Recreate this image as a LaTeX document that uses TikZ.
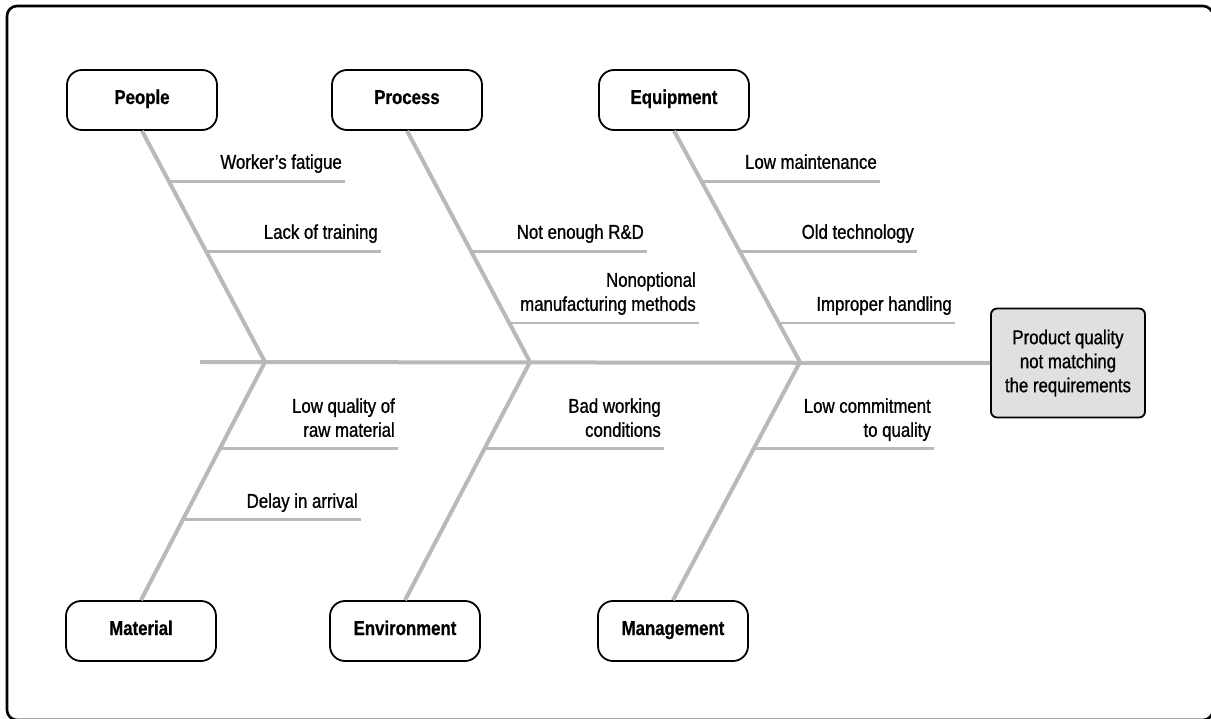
\documentclass[tikz,border=0pt]{standalone}
\usepackage{fontspec}
\setmainfont{Liberation Sans}[FakeStretch=0.84]
\newfontfamily\labelfont{Liberation Sans}[FakeStretch=0.84, FakeBold=0.9, Ligatures=TeX]
\newfontfamily\catfont{Liberation Sans}[FakeStretch=0.84, BoldFeatures={FakeBold=0.7}]
\usepackage{xcolor}
\usepackage{tikz}
\usetikzlibrary{calc}

\definecolor{bonegray}{RGB}{183,185,188}
\definecolor{effectfill}{RGB}{224,224,224}

\begin{document}
\begin{tikzpicture}[x=1pt, y=-1pt,
    cat/.style={draw, line width=1.8pt, rounded corners=15pt,
      minimum width=150pt, minimum height=60pt, text height=0.8em, text depth=0pt,
      font=\fontsize{20}{22}\catfont\bfseries},
    effect/.style={draw, fill=effectfill, line width=1.8pt, rounded corners=6pt,
      minimum width=154pt, minimum height=109pt, align=center,
      font=\fontsize{20}{24}\labelfont},
    bone/.style={bonegray, line width=4pt},
    rib/.style={bonegray, line width=2.5pt},
    cause/.style={anchor=south east, inner sep=0pt, text depth=0pt, align=right,
      font=\fontsize{20}{24}\labelfont, xshift=-3pt, yshift=12pt}]
  \useasboundingbox (0,0) rectangle (1211,719);
  \draw[line width=2.6pt, rounded corners=10pt] (7,6) rectangle (1213,720);

  % categories and effect
  \node[cat] (people)   at (142,100) {People};
  \node[cat] (process)  at (407,100) {Process};
  \node[cat] (equip)    at (674,100) {Equipment};
  \node[cat] (material) at (141,631) {Material};
  \node[cat] (environ)  at (405,631) {Environment};
  \node[cat] (manage)   at (673,631) {Management};
  \node[effect] (effect) at (1068,363) {Product quality\\not matching\\the requirements};

  % spine and bones
  \coordinate (tail) at (200,362);
  \coordinate (j1) at (265,362);
  \coordinate (j2) at (530,362);
  \coordinate (j3) at (800,362);
  \draw[bone] (tail) -- (effect.west);
  \draw[bone] (people.south) -- (j1);
  \draw[bone] (process.south) -- (j2);
  \draw[bone] (equip.south) -- (j3);
  \draw[bone] (j1) -- (material.north);
  \draw[bone] (j2) -- (environ.north);
  \draw[bone] (j3) -- (manage.north);

  % causes above the spine
  \coordinate (r1) at ($(people.south)!0.220!(j1)$);  \coordinate (e1) at (345,181);
  \coordinate (r2) at ($(people.south)!0.522!(j1)$);  \coordinate (e2) at (381,251);
  \coordinate (r3) at ($(process.south)!0.522!(j2)$); \coordinate (e3) at (647,251);
  \coordinate (r4) at ($(process.south)!0.832!(j2)$); \coordinate (e4) at (699,323);
  \coordinate (r5) at ($(equip.south)!0.220!(j3)$);   \coordinate (e5) at (880,181);
  \coordinate (r6) at ($(equip.south)!0.522!(j3)$);   \coordinate (e6) at (917,251);
  \coordinate (r7) at ($(equip.south)!0.832!(j3)$);   \coordinate (e7) at (955,323);
  % causes below the spine
  \coordinate (r8)  at ($(j1)!0.364!(material.north)$); \coordinate (e8)  at (398,449);
  \coordinate (r9)  at ($(j1)!0.661!(material.north)$); \coordinate (e9)  at (361,520);
  \coordinate (r10) at ($(j2)!0.364!(environ.north)$);  \coordinate (e10) at (664,449);
  \coordinate (r11) at ($(j3)!0.364!(manage.north)$);   \coordinate (e11) at (934,449);

  \draw[rib] (r1) -- (r1 -| e1);
  \draw[rib] (r2) -- (r2 -| e2);
  \draw[rib] (r3) -- (r3 -| e3);
  \draw[rib] (r4) -- (r4 -| e4);
  \draw[rib] (r5) -- (r5 -| e5);
  \draw[rib] (r6) -- (r6 -| e6);
  \draw[rib] (r7) -- (r7 -| e7);
  \draw[rib] (r8) -- (r8 -| e8);
  \draw[rib] (r9) -- (r9 -| e9);
  \draw[rib] (r10) -- (r10 -| e10);
  \draw[rib] (r11) -- (r11 -| e11);

  \node[cause] (c1) at (e1) {Worker's fatigue};
  \node[cause] (c2) at (e2) {Lack of training};
  \node[cause] (c3) at (e3) {Not enough R\&D};
  \node[cause] (c4) at (e4) {Nonoptional\\manufacturing methods};
  \node[cause] (c5) at (e5) {Low maintenance};
  \node[cause] (c6) at (e6) {Old technology};
  \node[cause] (c7) at (e7) {Improper handling};
  \node[cause] (c8) at (e8) {Low quality of\\raw material};
  \node[cause] (c9) at (e9) {Delay in arrival};
  \node[cause] (c10) at (e10) {Bad working\\conditions};
  \node[cause] (c11) at (e11) {Low commitment\\to quality};
\end{tikzpicture}
\end{document}
